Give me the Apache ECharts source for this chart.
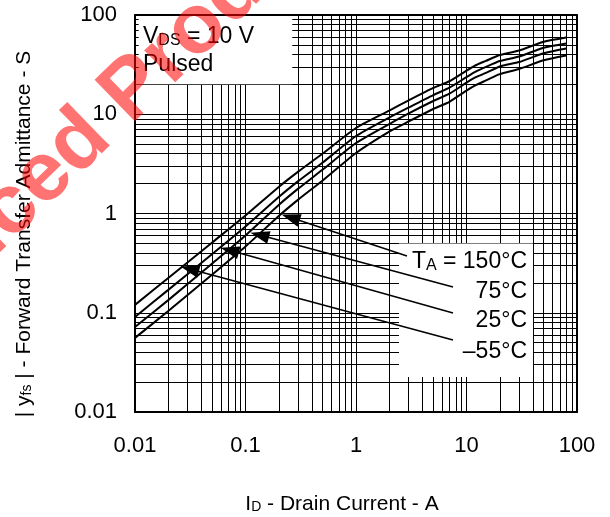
<!DOCTYPE html>
<html><head><meta charset="utf-8">
<script src="https://cdn.jsdelivr.net/npm/echarts@6/dist/echarts.min.js"></script>
<style>html,body{margin:0;padding:0;background:#fff}#c{width:610px;height:517px}</style>
</head><body><div id="c"></div>
<script>
// ---- data ----
const currents = [0.01,0.02,0.05,0.1,0.2,0.3,0.5,1,2,3,5,7,10,12,15,20,30,50,80];
const yfsM55 = [0.120,0.224,0.511,0.955,1.85,2.64,4.02,7.27,10.9,13.8,18.4,21.5,27.5,31.0,34.5,39.5,43.9,53.8,59.3];
const yfs25  = [0.0908,0.170,0.391,0.740,1.467,2.12,3.26,6.04,9.27,11.7,15.6,18.5,23.65,26.7,30.0,34.4,38.2,46.8,51.6];
const yfs75  = [0.072,0.134,0.314,0.601,1.22,1.78,2.77,5.13,7.97,10.2,13.6,16.1,20.8,23.5,26.1,30.3,33.6,41.2,46.0];
const yfs150 = [0.0558,0.104,0.243,0.465,0.944,1.38,2.15,4.07,6.69,8.47,11.3,13.35,17.3,19.5,21.9,25.4,28.6,35.0,39.1];
const xTickLabels = ['0.01','0.1','1','10','100'];
const yTickLabels = ['0.01','0.1','1','10','100'];
const xGridValues = [0.02,0.03,0.04,0.05,0.06,0.07,0.08,0.09,0.1,0.2,0.3,0.4,0.5,0.6,0.7,0.8,0.9,1,2,3,4,5,6,7,8,9,10,20,30,40,50,60,70,80,90];
const yGridValues = [0.02,0.03,0.04,0.05,0.06,0.07,0.08,0.09,0.1,0.2,0.3,0.4,0.5,0.6,0.7,0.8,0.9,1,2,3,4,5,6,7,8,9,10,20,30,40,50,60,70,80,90];
const leftStubValues = [30,40,50,60,70,80,90];
const leaderLabels = ['150°C','75°C','25°C','–55°C'];
const arrowTips = [[0.256,0.911],[0.1344,0.606],[0.0719,0.4267],[0.03126,0.2754]];
const leaderEnds = [[2.893,0.373],[7.55,0.1817],[7.55,0.0994],[7.55,0.0531]];
const noteBoxes = [[[0.01,20],[0.265,100]],[[2.45,0.0225],[40,0.5]]];

const FONT = '"Liberation Sans", Arial, Helvetica, sans-serif';
const chart = echarts.init(document.getElementById('c'), null, {renderer:'canvas'});
const toSeries = (arr) => currents.map((c,i)=>[c, arr[i]]);
const labelFmt = (labels) => (v) => labels[Math.round(Math.log10(v)+2)];

const gridLines = [];
xGridValues.forEach(v => gridLines.push([{coord:[v,0.01]},{coord:[v,100]}]));
yGridValues.forEach(v => gridLines.push([{coord:[0.01,v]},{coord:[100,v]}]));
const stubLines = leftStubValues.map(v => [{coord:[0.01,v]},{coord:[0.0108,v]}]);
const leaderLines = arrowTips.map((t,i)=>[{coord:t},{coord:leaderEnds[i]}]);

const curveStyle = {color:'#000', width:2};
const mkCurve = (name, arr) => ({
  name, type:'line', data: toSeries(arr), showSymbol:false, smooth:0.2,
  lineStyle: curveStyle, itemStyle:{color:'#000'}, z:3, silent:true
});

const txt = (x,y,text,rich,align) => ({
  type:'text', x, y, z:20,
  style:{text, rich, fill:'#000', align: align||'left', verticalAlign:'middle', font:'23px '+FONT}
});
const annRich = {
  a:{fontSize:23, fontFamily:FONT, color:'#000', verticalAlign:'bottom'},
  s:{fontSize:16, fontFamily:FONT, color:'#000', verticalAlign:'bottom'}
};
const axRich = {
  a:{fontSize:21, fontFamily:FONT, color:'#000', verticalAlign:'bottom'},
  s:{fontSize:14, fontFamily:FONT, color:'#000', verticalAlign:'bottom'}
};

const option = {
  animation:false,
  backgroundColor:'#fff',
  grid:{left:135, top:15, width:442, height:397, show:false},
  xAxis:[
    {type:'log', logBase:10, min:0.01, max:100, position:'bottom', z:10,
     axisLine:{show:true, onZero:false, lineStyle:{color:'#000', width:2}},
     axisTick:{show:false}, splitLine:{show:false}, minorTick:{show:false},
     axisLabel:{show:true, fontSize:22, fontFamily:FONT, color:'#000', margin:23, formatter: labelFmt(xTickLabels)}},
    {type:'log', logBase:10, min:0.01, max:100, position:'top', z:10,
     axisLine:{show:true, onZero:false, lineStyle:{color:'#000', width:2}},
     axisTick:{show:false}, splitLine:{show:false}, axisLabel:{show:false}}
  ],
  yAxis:[
    {type:'log', logBase:10, min:0.01, max:100, position:'left', z:10,
     axisLine:{show:true, onZero:false, lineStyle:{color:'#000', width:2}},
     axisTick:{show:false}, splitLine:{show:false},
     axisLabel:{show:true, fontSize:22, fontFamily:FONT, color:'#000', margin:18, formatter: labelFmt(yTickLabels)}},
    {type:'log', logBase:10, min:0.01, max:100, position:'right', z:10,
     axisLine:{show:true, onZero:false, lineStyle:{color:'#000', width:2}},
     axisTick:{show:false}, splitLine:{show:false}, axisLabel:{show:false}}
  ],
  series:[
    {type:'line', data:[], z:1, silent:true,
     markLine:{silent:true, z:1, symbol:'none', animation:false, label:{show:false},
       lineStyle:{color:'#000', width:1, type:'solid'}, emphasis:{disabled:true}, data: gridLines}},
    {type:'line', data:[], z:2, silent:true,
     markArea:{silent:true, z:2, animation:false, itemStyle:{color:'#fff', opacity:1, borderWidth:0}, label:{show:false},
       emphasis:{disabled:true}, data: noteBoxes.map(b=>[{coord:b[0]},{coord:b[1]}])}},
    mkCurve('−55°C', yfsM55),
    mkCurve('25°C', yfs25),
    mkCurve('75°C', yfs75),
    mkCurve('150°C', yfs150),
    {type:'line', data:[], z:6, silent:true,
     markLine:{silent:true, z:6, symbol:['triangle','none'], symbolSize:[13,19], animation:false, label:{show:false},
       lineStyle:{color:'#000', width:1.5, type:'solid'}, itemStyle:{color:'#000'}, emphasis:{disabled:true}, data: leaderLines}},
    {type:'line', data:[], z:6, silent:true,
     markLine:{silent:true, z:6, symbol:'none', animation:false, label:{show:false},
       lineStyle:{color:'#000', width:1, type:'solid'}, emphasis:{disabled:true}, data: stubLines}}
  ],
  graphic:[
    txt(143, 37, '{a|V}{s|DS}{a| = 10 V}', annRich),
    txt(143, 65, '{a|Pulsed}', annRich),
    txt(527, 262, '{a|T}{s|A}{a| = '+leaderLabels[0]+'}', annRich, 'right'),
    txt(527, 292, '{a|'+leaderLabels[1]+'}', annRich, 'right'),
    txt(527, 321, '{a|'+leaderLabels[2]+'}', annRich, 'right'),
    txt(527, 352, '{a|'+leaderLabels[3]+'}', annRich, 'right'),
    {type:'text', x:342, y:504, z:20,
     style:{text:'{a|I}{s|D}{a| - Drain Current - A}', rich:axRich, fill:'#000', align:'center', verticalAlign:'middle', font:'21px '+FONT}},
    {type:'text', x:24, y:234, rotation:Math.PI/2, z:20,
     style:{text:'{a|| y}{s|fs}{a| | - Forward Transfer Admittance - S}', rich:axRich, fill:'#000', align:'center', verticalAlign:'middle', font:'21px '+FONT}},
    {type:'text', x:76, y:146, rotation:0.77, z:100, silent:true,
     style:{text:'Advanced Product', fill:'rgba(255,0,0,0.55)', align:'center', verticalAlign:'middle', font:'bold 84px '+FONT}}
  ]
};
chart.setOption(option);
</script></body></html>
